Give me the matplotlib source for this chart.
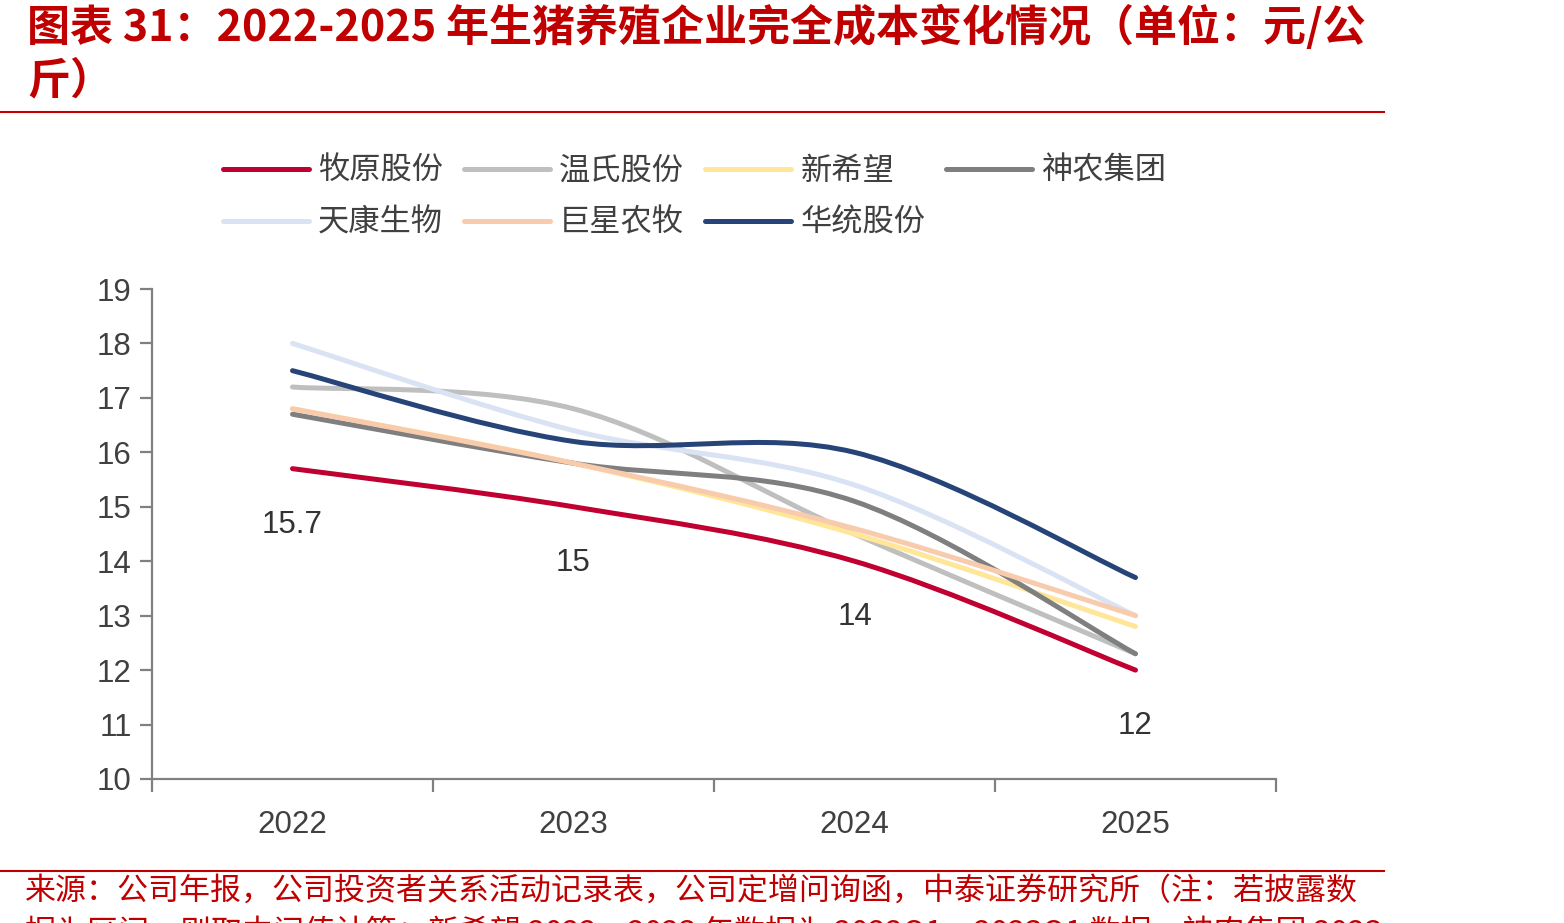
import numpy as np
import matplotlib
matplotlib.use("Agg")
import matplotlib.pyplot as plt
from matplotlib.path import Path
from matplotlib.patches import PathPatch
from matplotlib.lines import Line2D

plt.rcParams['font.family'] = ['Noto Sans CJK SC', 'DejaVu Sans']

# 数据
years = ['2022', '2023', '2024', '2025']
muyuan = [15.7, 15.0, 14.0, 12.0]
wens = [17.2, 16.8, 14.5, 12.3]
xinxiwang = [16.8, 15.8, 14.5, 12.8]
shennong = [16.7, 15.8, 15.1, 12.3]
tiankang = [18.0, 16.4, 15.4, 13.0]
juxing = [16.8, 15.8, 14.6, 13.0]
huatong = [17.5, 16.2, 16.0, 13.7]

names = ['牧原股份', '温氏股份', '新希望', '神农集团', '天康生物', '巨星农牧', '华统股份']
series = [muyuan, wens, xinxiwang, shennong, tiankang, juxing, huatong]
colors = ['#C00030', '#BFBFBF', '#FFE699', '#7F7F7F', '#DAE3F3', '#F8CBAD', '#264478']

RED = '#C00000'
TXT = '#404040'


def smooth_path(xs, ys):
    # 平滑曲线（类似 Excel 的贝塞尔平滑）
    pts = np.column_stack([xs, ys]).astype(float)
    n = len(pts)
    verts = [pts[0]]
    codes = [Path.MOVETO]
    for i in range(n - 1):
        p0 = pts[max(i - 1, 0)]
        p1 = pts[i]
        p2 = pts[i + 1]
        p3 = pts[min(i + 2, n - 1)]
        c1 = p1 + (p2 - p0) / 6.0
        c2 = p2 - (p3 - p1) / 6.0
        verts += [c1, c2, p2]
        codes += [Path.CURVE4] * 3
    return Path(verts, codes)


fig = plt.figure(figsize=(15.64, 9.23), dpi=100)
ax = fig.add_axes([152 / 1564, 1 - 779 / 923, (1276 - 152) / 1564, (779 - 289) / 923])

x = np.arange(len(years))
lw = 3.6
for name, ys, c in zip(names, series, colors):
    patch = PathPatch(smooth_path(x, ys), facecolor='none', edgecolor=c,
                      lw=lw, capstyle='round', joinstyle='round')
    ax.add_patch(patch)

# 牧原股份数据标签
for xi, v in zip(x, muyuan):
    lab = ('%g' % v)
    ax.annotate(lab, (xi, v), xytext=(0, -40.5), textcoords='offset points',
                ha='center', va='center', fontsize=22.5, color='#333333',
                family='Liberation Sans')

ax.set_xlim(-0.5, 3.5)
ax.set_ylim(10, 19)
ax.set_yticks(range(10, 20))
ax.set_xticks(x)
ax.set_xticklabels(years)
ax.set_xticks(np.arange(-0.5, 4, 1), minor=True)

for s in ['top', 'right']:
    ax.spines[s].set_visible(False)
for s in ['left', 'bottom']:
    ax.spines[s].set_color('#808080')
    ax.spines[s].set_linewidth(1.6)

ax.tick_params(axis='y', length=8.5, width=1.6, color='#808080', pad=6,
               labelsize=22.5, labelcolor=TXT)
ax.tick_params(axis='x', which='major', length=0, pad=22, labelsize=22.5, labelcolor=TXT)
ax.tick_params(axis='x', which='minor', length=9, width=1.6, color='#808080')
for lab in ax.get_xticklabels() + ax.get_yticklabels():
    lab.set_family('Liberation Sans')

# 图例（按行排列）
order = [0, 4, 1, 5, 2, 6, 3]
handles = [Line2D([], [], color=colors[i], lw=lw, solid_capstyle='round') for i in order]
labels = [names[i] for i in order]
fig.legend(handles, labels, loc='upper left', ncol=4, frameon=False,
           bbox_to_anchor=(207 / 1564, 1 - 139 / 923), fontsize=22.5,
           handlelength=2.75, handletextpad=0.3, columnspacing=0.67,
           labelspacing=0.64, borderpad=0, labelcolor=TXT)

# 标题
fig.text(27 / 1564, 1 - 27 / 923, '图表 31：2022-2025 年生猪养殖企业完全成本变化情况（单位：元/公',
         fontsize=31, fontweight='bold', color=RED, ha='left', va='center')
fig.text(27 / 1564, 1 - 80 / 923, '斤）',
         fontsize=31, fontweight='bold', color=RED, ha='left', va='center')

# 分隔线
fig.add_artist(Line2D([0, 1384 / 1564], [1 - 112 / 923] * 2, color=RED, lw=1.5))
fig.add_artist(Line2D([0, 1384 / 1564], [1 - 871 / 923] * 2, color=RED, lw=1.5))

# 来源
fig.text(25 / 1564, 1 - 891 / 923,
         '来源：公司年报，公司投资者关系活动记录表，公司定增问询函，中泰证券研究所（注：若披露数',
         fontsize=22.3, color=RED, ha='left', va='center')
fig.text(25 / 1564, 1 - 932 / 923,
         '据为区间，则取中间值计算；新希望 2022、2023 年数据为 2022Q1、2023Q1 数据，神农集团 2023',
         fontsize=22.3, color=RED, ha='left', va='center')

fig.savefig('out.png', dpi=100)
